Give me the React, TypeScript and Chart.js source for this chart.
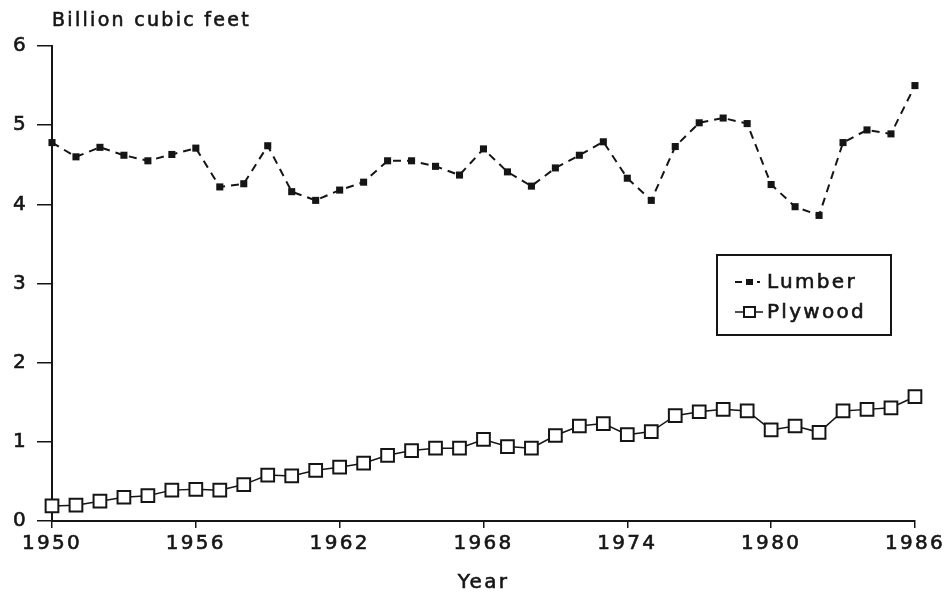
import React, { useEffect, useRef } from "react";
import { Chart, registerables } from "chart.js";

Chart.register(...registerables);

const years = [
  1950, 1951, 1952, 1953, 1954, 1955, 1956, 1957, 1958, 1959,
  1960, 1961, 1962, 1963, 1964, 1965, 1966, 1967, 1968, 1969,
  1970, 1971, 1972, 1973, 1974, 1975, 1976, 1977, 1978, 1979,
  1980, 1981, 1982, 1983, 1984, 1985, 1986,
];

const lumber = [
  4.78, 4.60, 4.72, 4.62, 4.55, 4.63, 4.71, 4.22, 4.26, 4.74,
  4.16, 4.05, 4.18, 4.28, 4.55, 4.55, 4.48, 4.37, 4.70, 4.41,
  4.23, 4.46, 4.62, 4.79, 4.33, 4.05, 4.73, 5.03, 5.09, 5.02,
  4.25, 3.97, 3.86, 4.78, 4.94, 4.89, 5.50,
];

const plywood = [
  0.19, 0.20, 0.25, 0.30, 0.32, 0.39, 0.40, 0.39, 0.46, 0.58,
  0.57, 0.64, 0.68, 0.73, 0.83, 0.89, 0.92, 0.92, 1.03, 0.94,
  0.92, 1.08, 1.20, 1.23, 1.09, 1.13, 1.33, 1.38, 1.41, 1.39,
  1.15, 1.20, 1.12, 1.39, 1.41, 1.43, 1.57,
];

const xTicks = [1950, 1956, 1962, 1968, 1974, 1980, 1986];
const yTicks = [0, 1, 2, 3, 4, 5, 6];

const seriesNames = ["Lumber", "Plywood"];
const yUnitLabel = "Billion cubic feet";
const xAxisLabel = "Year";

const FONT = "'DejaVu Sans', 'Liberation Sans', sans-serif";
const INK = "#151515";
const SPACING = "2.3px";
const STROKE = 0.6;

const spacingPlugin = {
  id: "spacing",
  beforeUpdate(chart: any) {
    (chart.ctx as any).letterSpacing = SPACING;
  },
  beforeLayout(chart: any) {
    (chart.ctx as any).letterSpacing = SPACING;
  },
  beforeDraw(chart: any) {
    (chart.ctx as any).letterSpacing = SPACING;
  },
};

function boldText(ctx: CanvasRenderingContext2D, text: string, x: number, y: number) {
  ctx.fillText(text, x, y);
  ctx.save();
  ctx.setLineDash([]);
  ctx.lineWidth = STROKE;
  ctx.strokeStyle = INK;
  ctx.strokeText(text, x, y);
  ctx.restore();
}

const annotatePlugin = {
  id: "annotate",
  afterDraw(chart: any) {
    const ctx = chart.ctx as CanvasRenderingContext2D;
    const area = chart.chartArea;
    ctx.save();
    (ctx as any).letterSpacing = SPACING;
    ctx.fillStyle = INK;
    ctx.font = `19px ${FONT}`;
    ctx.textAlign = "left";
    ctx.textBaseline = "alphabetic";
    boldText(ctx, yUnitLabel, area.left, 26);

    // x axis title
    ctx.font = `20px ${FONT}`;
    ctx.textAlign = "center";
    boldText(ctx, xAxisLabel, (area.left + area.right) / 2, 588);

    // legend box
    const bx = 717, by = 255, bw = 174, bh = 80;
    ctx.strokeStyle = INK;
    ctx.lineWidth = 2;
    ctx.strokeRect(bx, by, bw, bh);

    const rows = [282, 312];
    ctx.font = `20px ${FONT}`;
    ctx.textAlign = "left";
    ctx.textBaseline = "middle";
    // Lumber sample
    ctx.lineWidth = 2;
    ctx.setLineDash([7, 4]);
    ctx.beginPath();
    ctx.moveTo(735, rows[0]);
    ctx.lineTo(760, rows[0]);
    ctx.stroke();
    ctx.setLineDash([]);
    ctx.fillRect(746, rows[0] - 3, 7, 6);
    boldText(ctx, seriesNames[0], 767, rows[0] + 1);
    // Plywood sample
    ctx.lineWidth = 1.5;
    ctx.beginPath();
    ctx.moveTo(735, rows[1]);
    ctx.lineTo(763, rows[1]);
    ctx.stroke();
    ctx.fillStyle = "#ffffff";
    ctx.fillRect(744, rows[1] - 5, 11, 10);
    ctx.lineWidth = 2;
    ctx.strokeRect(744, rows[1] - 5, 11, 10);
    ctx.fillStyle = INK;
    boldText(ctx, seriesNames[1], 767, rows[1] + 1);
    ctx.restore();
  },
};

export default function App() {
  const ref = useRef<HTMLCanvasElement | null>(null);

  useEffect(() => {
    document.body.style.margin = "0";
    const canvas = ref.current;
    if (!canvas) return;
    const chart = new Chart(canvas, {
      type: "line",
      data: {
        datasets: [
          {
            label: seriesNames[0],
            data: years.map((y, i) => ({ x: y, y: lumber[i] })),
            borderColor: INK,
            backgroundColor: INK,
            borderWidth: 2,
            borderDash: [8, 6],
            pointStyle: "rect",
            pointRadius: 5,
            pointBorderWidth: 0,
            pointBackgroundColor: INK,
            tension: 0,
            clip: false,
          },
          {
            label: seriesNames[1],
            data: years.map((y, i) => ({ x: y, y: plywood[i] })),
            borderColor: INK,
            backgroundColor: "#ffffff",
            borderWidth: 1.5,
            pointStyle: "rect",
            pointRadius: 9,
            pointBorderWidth: 2,
            pointBorderColor: INK,
            pointBackgroundColor: "#ffffff",
            tension: 0,
            clip: false,
          },
        ],
      },
      options: {
        responsive: false,
        animation: false,
        layout: { padding: { top: 46, right: 33, left: 0, bottom: 0 } },
        plugins: {
          legend: { display: false },
          tooltip: { enabled: false },
        },
        scales: {
          x: {
            type: "linear",
            min: xTicks[0],
            max: xTicks[xTicks.length - 1],
            afterBuildTicks: (scale: any) => {
              scale.ticks = xTicks.map((v) => ({ value: v }));
            },
            afterFit: (scale: any) => {
              scale.height = 71;
            },
            grid: {
              display: true,
              drawOnChartArea: false,
              drawTicks: true,
              tickLength: 7,
              color: INK,
              lineWidth: 1.5,
            },
            border: { display: true, color: INK, width: 2 },
            ticks: {
              color: INK,
              font: { family: FONT, size: 20 },
              padding: 4,
              maxRotation: 0,
              autoSkip: false,
              textStrokeWidth: STROKE,
              textStrokeColor: INK,
              callback: (v: any) => String(v),
            },
            title: { display: false },
          },
          y: {
            min: yTicks[0],
            max: yTicks[yTicks.length - 1],
            afterBuildTicks: (scale: any) => {
              scale.ticks = yTicks.map((v) => ({ value: v }));
            },
            afterFit: (scale: any) => {
              scale.width = 52;
            },
            grid: {
              display: true,
              drawOnChartArea: false,
              drawTicks: true,
              tickLength: 15,
              color: INK,
              lineWidth: 1.5,
            },
            border: { display: true, color: INK, width: 2 },
            ticks: {
              color: INK,
              font: { family: FONT, size: 20 },
              padding: 9,
              textStrokeWidth: STROKE,
              textStrokeColor: INK,
              callback: (v: any) => String(v),
            },
          },
        },
      },
      plugins: [spacingPlugin, annotatePlugin],
    });
    return () => chart.destroy();
  }, []);

  return <canvas ref={ref} width={949} height={592} style={{ display: "block" }} />;
}
